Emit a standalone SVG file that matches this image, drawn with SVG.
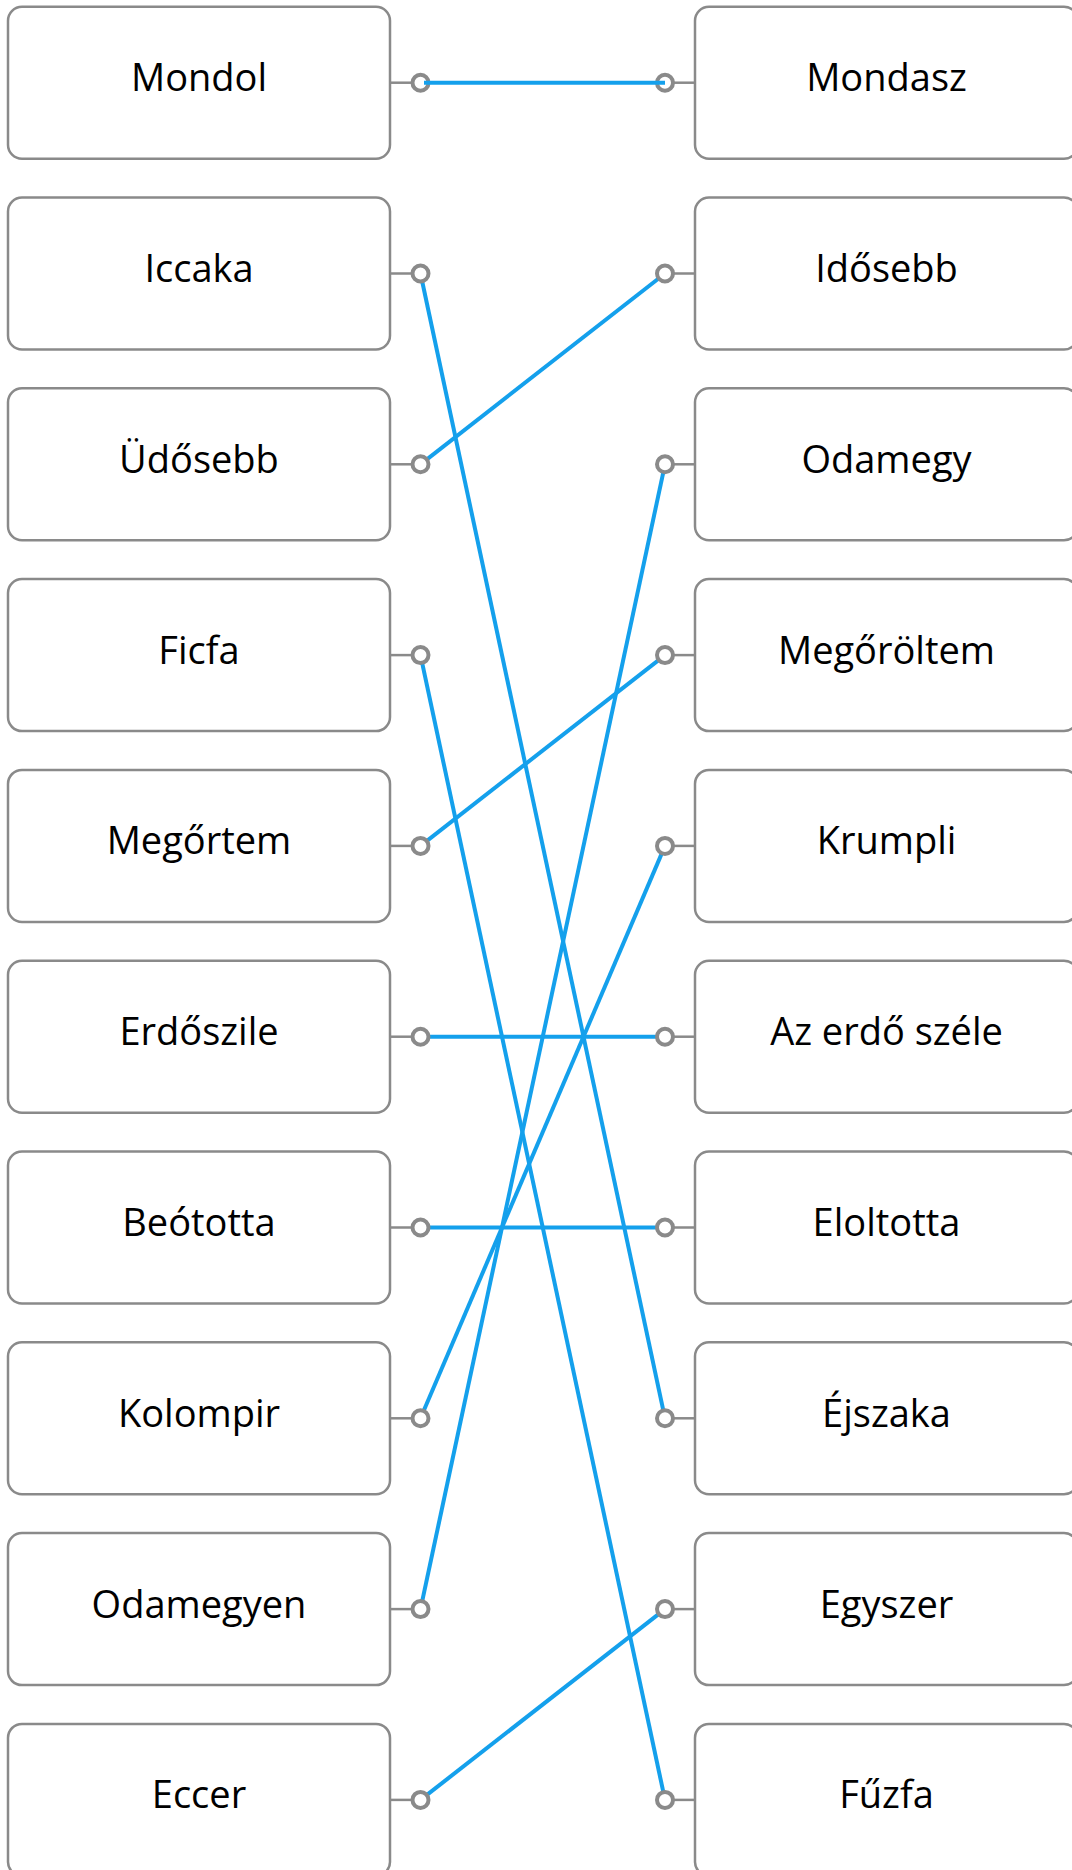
<svg xmlns="http://www.w3.org/2000/svg" width="1072" height="1870" viewBox="0 0 1072 1870">
<style>
.box{fill:#fff;stroke:#8a8a8a;stroke-width:2.5}
.stub{stroke:#8a8a8a;stroke-width:2.5}
.dot{fill:#fff;stroke:#8a8a8a;stroke-width:4}
.lbl{font-family:"Open Sans","Noto Sans","DejaVu Sans",sans-serif;font-size:38px;fill:#000;text-anchor:middle}
.conn{stroke:#14a0ec;stroke-width:4;fill:none}
</style>
<rect width="1072" height="1870" fill="#fff"/>
<g id="connectors">
<line class="conn" x1="420.5" y1="273.5" x2="665" y2="1418.3"/>
<line class="conn" x1="420.5" y1="464.3" x2="665" y2="273.5"/>
<line class="conn" x1="420.5" y1="655.1" x2="665" y2="1799.9"/>
<line class="conn" x1="420.5" y1="845.9" x2="665" y2="655.1"/>
<line class="conn" x1="420.5" y1="1036.7" x2="665" y2="1036.7"/>
<line class="conn" x1="420.5" y1="1227.5" x2="665" y2="1227.5"/>
<line class="conn" x1="420.5" y1="1418.3" x2="665" y2="845.9"/>
<line class="conn" x1="420.5" y1="1609.1" x2="665" y2="464.3"/>
<line class="conn" x1="420.5" y1="1799.9" x2="665" y2="1609.1"/>
</g>
<g id="L0"><rect class="box" x="8" y="6.7" width="382" height="152" rx="14"/><line class="stub" x1="390" y1="82.7" x2="413" y2="82.7"/><circle class="dot" cx="420.5" cy="82.7" r="8"/><text class="lbl" x="199" y="91.2">Mondol</text></g>
<g id="L1"><rect class="box" x="8" y="197.5" width="382" height="152" rx="14"/><line class="stub" x1="390" y1="273.5" x2="413" y2="273.5"/><circle class="dot" cx="420.5" cy="273.5" r="8"/><text class="lbl" x="199" y="282">Iccaka</text></g>
<g id="L2"><rect class="box" x="8" y="388.3" width="382" height="152" rx="14"/><line class="stub" x1="390" y1="464.3" x2="413" y2="464.3"/><circle class="dot" cx="420.5" cy="464.3" r="8"/><text class="lbl" x="199" y="472.8">Üdősebb</text></g>
<g id="L3"><rect class="box" x="8" y="579.1" width="382" height="152" rx="14"/><line class="stub" x1="390" y1="655.1" x2="413" y2="655.1"/><circle class="dot" cx="420.5" cy="655.1" r="8"/><text class="lbl" x="199" y="663.6">Ficfa</text></g>
<g id="L4"><rect class="box" x="8" y="769.9" width="382" height="152" rx="14"/><line class="stub" x1="390" y1="845.9" x2="413" y2="845.9"/><circle class="dot" cx="420.5" cy="845.9" r="8"/><text class="lbl" x="199" y="854.4">Megőrtem</text></g>
<g id="L5"><rect class="box" x="8" y="960.7" width="382" height="152" rx="14"/><line class="stub" x1="390" y1="1036.7" x2="413" y2="1036.7"/><circle class="dot" cx="420.5" cy="1036.7" r="8"/><text class="lbl" x="199" y="1045.2">Erdőszile</text></g>
<g id="L6"><rect class="box" x="8" y="1151.5" width="382" height="152" rx="14"/><line class="stub" x1="390" y1="1227.5" x2="413" y2="1227.5"/><circle class="dot" cx="420.5" cy="1227.5" r="8"/><text class="lbl" x="199" y="1236">Beótotta</text></g>
<g id="L7"><rect class="box" x="8" y="1342.3" width="382" height="152" rx="14"/><line class="stub" x1="390" y1="1418.3" x2="413" y2="1418.3"/><circle class="dot" cx="420.5" cy="1418.3" r="8"/><text class="lbl" x="199" y="1426.8">Kolompir</text></g>
<g id="L8"><rect class="box" x="8" y="1533.1" width="382" height="152" rx="14"/><line class="stub" x1="390" y1="1609.1" x2="413" y2="1609.1"/><circle class="dot" cx="420.5" cy="1609.1" r="8"/><text class="lbl" x="199" y="1617.6">Odamegyen</text></g>
<g id="L9"><rect class="box" x="8" y="1723.9" width="382" height="152" rx="14"/><line class="stub" x1="390" y1="1799.9" x2="413" y2="1799.9"/><circle class="dot" cx="420.5" cy="1799.9" r="8"/><text class="lbl" x="199" y="1808.4">Eccer</text></g>
<g id="R0"><rect class="box" x="695" y="6.7" width="383" height="152" rx="14"/><line class="stub" x1="672.5" y1="82.7" x2="695" y2="82.7"/><circle class="dot" cx="665" cy="82.7" r="8"/><text class="lbl" x="886.5" y="91.2">Mondasz</text></g>
<g id="R1"><rect class="box" x="695" y="197.5" width="383" height="152" rx="14"/><line class="stub" x1="672.5" y1="273.5" x2="695" y2="273.5"/><circle class="dot" cx="665" cy="273.5" r="8"/><text class="lbl" x="886.5" y="282">Idősebb</text></g>
<g id="R2"><rect class="box" x="695" y="388.3" width="383" height="152" rx="14"/><line class="stub" x1="672.5" y1="464.3" x2="695" y2="464.3"/><circle class="dot" cx="665" cy="464.3" r="8"/><text class="lbl" x="886.5" y="472.8">Odamegy</text></g>
<g id="R3"><rect class="box" x="695" y="579.1" width="383" height="152" rx="14"/><line class="stub" x1="672.5" y1="655.1" x2="695" y2="655.1"/><circle class="dot" cx="665" cy="655.1" r="8"/><text class="lbl" x="886.5" y="663.6">Megőröltem</text></g>
<g id="R4"><rect class="box" x="695" y="769.9" width="383" height="152" rx="14"/><line class="stub" x1="672.5" y1="845.9" x2="695" y2="845.9"/><circle class="dot" cx="665" cy="845.9" r="8"/><text class="lbl" x="886.5" y="854.4">Krumpli</text></g>
<g id="R5"><rect class="box" x="695" y="960.7" width="383" height="152" rx="14"/><line class="stub" x1="672.5" y1="1036.7" x2="695" y2="1036.7"/><circle class="dot" cx="665" cy="1036.7" r="8"/><text class="lbl" x="886.5" y="1045.2">Az erdő széle</text></g>
<g id="R6"><rect class="box" x="695" y="1151.5" width="383" height="152" rx="14"/><line class="stub" x1="672.5" y1="1227.5" x2="695" y2="1227.5"/><circle class="dot" cx="665" cy="1227.5" r="8"/><text class="lbl" x="886.5" y="1236">Eloltotta</text></g>
<g id="R7"><rect class="box" x="695" y="1342.3" width="383" height="152" rx="14"/><line class="stub" x1="672.5" y1="1418.3" x2="695" y2="1418.3"/><circle class="dot" cx="665" cy="1418.3" r="8"/><text class="lbl" x="886.5" y="1426.8">Éjszaka</text></g>
<g id="R8"><rect class="box" x="695" y="1533.1" width="383" height="152" rx="14"/><line class="stub" x1="672.5" y1="1609.1" x2="695" y2="1609.1"/><circle class="dot" cx="665" cy="1609.1" r="8"/><text class="lbl" x="886.5" y="1617.6">Egyszer</text></g>
<g id="R9"><rect class="box" x="695" y="1723.9" width="383" height="152" rx="14"/><line class="stub" x1="672.5" y1="1799.9" x2="695" y2="1799.9"/><circle class="dot" cx="665" cy="1799.9" r="8"/><text class="lbl" x="886.5" y="1808.4">Fűzfa</text></g>
<g id="connector-top"><line class="conn" x1="424" y1="82.7" x2="665" y2="82.7"/></g>
</svg>
